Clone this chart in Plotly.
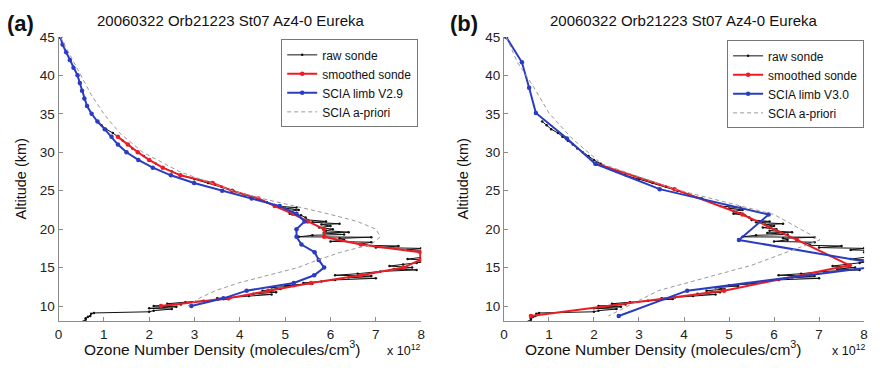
import plotly.graph_objects as go

W, H = 880, 368

# ---------------- data (ozone in units of 1e12 molecules/cm^3, altitude km) ----
raw_alt = [34.0, 33.5, 33.0, 32.5, 32.0, 31.5, 31.0, 30.5, 30.0, 29.5, 29.0, 28.5,
           28.0, 27.5, 27.0, 26.5, 26.0, 25.5, 25.0, 24.5, 24.0, 23.5, 23.0, 22.8,
           22.7, 22.5, 22.3, 22.1, 22.0, 21.8, 21.5, 21.2, 21.0, 20.9, 20.7, 20.6,
           20.4, 20.2, 20.0, 19.8, 19.6, 19.5, 19.3, 19.2, 19.0, 18.95, 18.8, 18.6,
           18.4, 18.3, 18.1, 17.9, 17.8, 17.6, 17.5, 17.3, 17.2, 17.0, 16.7, 16.4,
           16.1, 15.9, 15.6, 15.4, 15.2, 15.0, 14.8, 14.7, 14.5, 14.2, 14.0, 13.9,
           13.7, 13.6, 13.4, 13.2, 13.0, 12.9, 12.7, 12.6, 12.4, 12.2, 12.0, 11.8,
           11.6, 11.5, 11.3, 11.1, 11.0, 10.9, 10.7, 10.5, 10.3, 10.2, 10.0, 9.9,
           9.7, 9.6, 9.4, 9.25, 9.1, 9.0, 8.7, 8.6, 8.4, 8.2, 8.0]
raw_val = [0.85, 0.95, 1.05, 1.2, 1.3, 1.42, 1.53, 1.63, 1.75, 1.88, 2.0, 2.15,
           2.3, 2.5, 2.7, 3.0, 3.3, 3.6, 3.85, 4.1, 4.4, 4.6, 4.8, 5.25,
           5.0, 5.3, 5.1, 5.25, 5.1, 5.35, 5.45, 5.5, 5.9, 5.6, 6.2, 5.8,
           6.0, 5.75, 6.05, 5.9, 6.4, 5.85, 6.3, 5.6, 5.3, 6.9, 6.2, 6.3,
           6.0, 6.9, 6.7, 6.8, 7.5, 7.0, 8.0, 7.7, 8.3, 8.0, 8.2, 8.1,
           7.7, 8.3, 7.9, 7.6, 7.3, 7.8, 7.4, 7.9, 7.1, 6.6, 6.1, 6.9,
           6.4, 7.0, 6.1, 5.8, 5.4, 5.6, 5.0, 5.2, 4.7, 4.9, 4.5, 4.8,
           4.3, 4.7, 4.2, 3.8, 3.5, 3.75, 3.2, 2.8, 2.4, 2.7, 2.1, 2.6,
           2.0, 2.5, 2.1, 2.0, 0.78, 0.72, 0.7, 0.65, 0.6, 0.6, 0.55]

# panel (a)
smooth_a_alt = [32, 31, 30, 29, 28, 27, 26, 25, 24, 23, 22, 21, 20, 19, 18, 17, 16,
                15, 14, 13, 12, 11, 10]
smooth_a_val = [1.31, 1.53, 1.75, 2.0, 2.3, 2.69, 3.4, 3.83, 4.41, 4.77, 5.17, 5.5,
                5.86, 5.86, 6.67, 7.98, 7.98, 7.61, 6.67, 5.57, 4.63, 3.75, 2.26]

scia_a_alt = [45, 44, 43, 42, 41, 40, 39, 38, 37, 36, 35, 34, 33, 32, 31, 30, 29, 28,
              27, 26, 25, 24, 23, 22, 21, 20, 19, 18, 17, 16, 15, 14, 13, 12, 11, 10]
scia_a_val = [0.04, 0.09, 0.17, 0.25, 0.33, 0.42, 0.47, 0.52, 0.57, 0.63, 0.73, 0.86,
              1.02, 1.17, 1.31, 1.5, 1.76, 2.08, 2.48, 2.99, 3.61, 4.26, 4.88, 5.25,
              5.43, 5.25, 5.25, 5.36, 5.65, 5.74, 5.86, 5.64, 5.19, 4.15, 3.64, 2.93]

apriori_a_alt = [45, 42.5, 40, 37.5, 35, 32.5, 30, 27.5, 25, 24, 23, 22, 21, 20, 19,
                 18, 17, 16, 15, 14, 13, 12, 11, 10]
apriori_a_val = [0.04, 0.27, 0.49, 0.72, 1.0, 1.35, 1.86, 2.66, 3.83, 4.48, 5.21, 5.94,
                 6.59, 7.0, 7.1, 6.89, 6.23, 5.72, 5.28, 4.63, 3.97, 3.46, 3.1, 2.85]

# panel (b)
smooth_b_alt = [28.5, 25.2, 21.9, 18.6, 15.3, 12.0, 8.7]
smooth_b_val = [2.05, 3.79, 5.30, 6.51, 7.68, 4.89, 0.6]

scia_b_alt = [45, 41.7, 38.4, 35.1, 31.8, 28.5, 25.2, 21.9, 18.6, 15.3, 12.0, 8.7]
scia_b_val = [0.05, 0.40, 0.56, 0.71, 1.40, 2.03, 3.46, 5.88, 5.22, 8.5, 4.07, 2.55]

apriori_b_alt = [45, 41.7, 38.4, 35.1, 31.8, 28.5, 25.2, 21.9, 18.6, 15.3, 12.0, 8.7]
apriori_b_val = [0.05, 0.30, 0.67, 1.0, 1.51, 2.17, 3.79, 6.0, 7.02, 5.5, 3.43, 2.32]

x_ticks = [0, 1, 2, 3, 4, 5, 6, 7, 8]
y_ticks = [10, 15, 20, 25, 30, 35, 40, 45]

title_text = "20060322 Orb21223 St07 Az4-0 Eureka"

BLUE = "#2a3cc0"
RED = "#ec1c24"
BLACK = "#111111"
GRAY = "#999999"
AXIS = "#8c8c8c"
FONT = "Liberation Sans, Arial, sans-serif"

fig = go.Figure()


def add_panel(xa, ya, leg, smooth_alt, smooth_val, scia_alt, scia_val, scia_name,
              apr_alt, apr_val):
    fig.add_trace(go.Scatter(x=raw_val, y=raw_alt, mode="lines+markers", name="raw sonde",
                             line=dict(color=BLACK, width=1),
                             marker=dict(size=2.5, color=BLACK),
                             xaxis=xa, yaxis=ya, legend=leg))
    fig.add_trace(go.Scatter(x=smooth_val, y=smooth_alt, mode="lines+markers",
                             name="smoothed sonde", line=dict(color=RED, width=2),
                             marker=dict(size=4.5, color=RED),
                             xaxis=xa, yaxis=ya, legend=leg))
    fig.add_trace(go.Scatter(x=scia_val, y=scia_alt, mode="lines+markers",
                             name=scia_name, line=dict(color=BLUE, width=2),
                             marker=dict(size=4.5, color=BLUE),
                             xaxis=xa, yaxis=ya, legend=leg))
    fig.add_trace(go.Scatter(x=apr_val, y=apr_alt, mode="lines", name="SCIA a-priori",
                             line=dict(color=GRAY, width=1, dash="4px,3px"),
                             xaxis=xa, yaxis=ya, legend=leg))


add_panel("x", "y", "legend", smooth_a_alt, smooth_a_val, scia_a_alt, scia_a_val,
          "SCIA limb V2.9", apriori_a_alt, apriori_a_val)
add_panel("x2", "y2", "legend2", smooth_b_alt, smooth_b_val, scia_b_alt, scia_b_val,
          "SCIA limb V3.0", apriori_b_alt, apriori_b_val)

axis_common = dict(showline=True, linecolor=AXIS, linewidth=1, mirror=False,
                   showgrid=False, zeroline=False, ticks="inside", ticklen=4,
                   tickcolor=AXIS, tickfont=dict(family=FONT, size=13.5, color="#222"))

ydom = [1 - 320.5 / H, 1 - 30.5 / H]
leg_common = dict(xanchor="right", yanchor="top", bgcolor="white", bordercolor="#777",
                  borderwidth=1, font=dict(family=FONT, size=12, color="#111"),
                  itemwidth=30, tracegroupgap=0)
fig.update_layout(
    width=W, height=H, margin=dict(l=0, r=0, t=0, b=0),
    paper_bgcolor="white", plot_bgcolor="white",
    font=dict(family=FONT, color="#222"),
    xaxis=dict(domain=[55 / W, 421 / W], range=[0, 8], tickvals=x_ticks,
               anchor="y", **axis_common),
    yaxis=dict(domain=ydom, range=[8, 45], tickvals=y_ticks, anchor="x", **axis_common),
    xaxis2=dict(domain=[504.5 / W, 868 / W], range=[0, 8], tickvals=x_ticks,
                anchor="y2", **axis_common),
    yaxis2=dict(domain=ydom, range=[8, 45], tickvals=y_ticks, anchor="x2",
                **axis_common),
    legend=dict(x=418 / W, y=1 - 33 / H, **leg_common),
    legend2=dict(x=868 / W, y=1 - 34 / H, **leg_common),
    showlegend=True,
)

ann = []


def add_text(px, py, text, size, bold=False, angle=0, xanchor="center"):
    ann.append(dict(x=px / W, y=1 - py / H, xref="paper", yref="paper", text=text,
                    showarrow=False, textangle=angle, xanchor=xanchor, yanchor="middle",
                    font=dict(family=FONT, size=size, color="#111")))


# panel labels
add_text(1, 17, "<b>(a)</b>", 22, xanchor="left")
add_text(448, 17, "<b>(b)</b>", 22, xanchor="left")
# titles
add_text(229, 14, title_text, 15)
add_text(686, 14, title_text, 15)
# y axis titles
add_text(17, 175, "Altitude (km)", 14.5, angle=-90)
add_text(463, 175, "Altitude (km)", 14.5, angle=-90)
# x axis titles
xt = "Ozone Number Density (molecules/cm<sup>3</sup>)"
add_text(221, 348, xt, 15.5)
add_text(666, 348, xt, 15.5)
add_text(404, 350, "x 10<sup>12</sup>", 12.5)
add_text(853, 350, "x 10<sup>12</sup>", 12.5)

fig.update_layout(annotations=ann)

fig.write_html("out.html")
